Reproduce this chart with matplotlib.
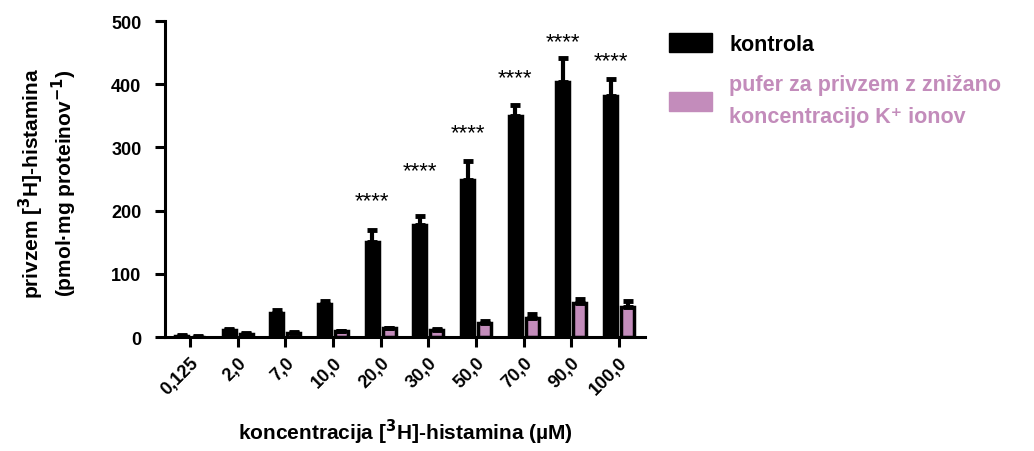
import matplotlib
matplotlib.use("Agg")
import matplotlib.pyplot as plt
import numpy as np
from matplotlib.patches import Patch

plt.rcParams['font.family'] = ['Liberation Sans', 'DejaVu Sans']

categories = ["0,125", "2,0", "7,0", "10,0", "20,0", "30,0", "50,0", "70,0", "90,0", "100,0"]
kontrola = [2, 11, 38, 53, 150, 178, 248, 350, 403, 381]
kontrola_err = [1, 1, 4, 4, 19, 13, 30, 17, 38, 27]
pufer = [0.5, 5, 7, 9, 13.5, 11, 22, 30, 54, 48]
pufer_err = [0.5, 1, 1, 1, 1.5, 2, 3, 7, 6, 9]
stars_y = [215, 263, 324, 411, 468, 437]
stars_idx = [4, 5, 6, 7, 8, 9]

PINK = '#C38CBB'

fig = plt.figure(figsize=(10.34, 4.52), dpi=100)
ax = fig.add_axes([0.1596, 0.2522, 0.6238 - 0.1596, 0.9513 - 0.2522])

x = np.arange(len(categories))
off = 0.178
w = 0.27
ax.bar(x - off, kontrola, width=w, color='black', edgecolor='black', linewidth=2.5, zorder=2)
ax.errorbar(x - off, kontrola, yerr=[np.zeros(len(x)), kontrola_err], fmt='none',
            ecolor='black', elinewidth=3.0, capsize=3.5, capthick=3.5, zorder=3)
ax.bar(x + off, pufer, width=w, color=PINK, edgecolor='black', linewidth=2.5, zorder=2)
ax.errorbar(x + off, pufer, yerr=[np.zeros(len(x)), pufer_err], fmt='none',
            ecolor='black', elinewidth=3.0, capsize=3.5, capthick=3.5, zorder=3)

for i, yv in zip(stars_idx, stars_y):
    ax.text(x[i] - off, yv, "****", ha='center', va='center', fontsize=16, color='black')

ax.set_xlim(-0.524, 9.545)
ax.set_ylim(0, 500)
ax.set_yticks([0, 100, 200, 300, 400, 500])
ax.set_xticks(x)
ax.set_xticklabels(categories, rotation=45, ha='right', rotation_mode='anchor',
                   fontsize=13, fontweight='bold')
for lab in ax.get_yticklabels():
    lab.set_fontweight('bold')
    lab.set_fontsize(13)

for s in ['top', 'right']:
    ax.spines[s].set_visible(False)
for s in ['left', 'bottom']:
    ax.spines[s].set_linewidth(2.2)
ax.tick_params(axis='both', width=2.2, length=7, direction='out')
ax.tick_params(axis='y', pad=10)
ax.tick_params(axis='x', pad=5)

ax.set_xlabel("koncentracija [$\\mathbf{^3}$H]-histamina (µM)", fontsize=15, fontweight='bold', labelpad=14)
fig.text(0.030, 0.595, "privzem [$\\mathbf{^3}$H]-histamina", rotation=90, ha='center', va='center',
         fontsize=15, fontweight='bold')
fig.text(0.062, 0.595, "(pmol·mg proteinov$\\mathbf{^{-1}}$)", rotation=90, ha='center', va='center',
         fontsize=15, fontweight='bold')

handles = [Patch(facecolor='black', edgecolor='black'), Patch(facecolor=PINK, edgecolor=PINK)]
labels = ["kontrola", "pufer za privzem z znižano\nkoncentracijo K\u207a ionov"]
leg = fig.legend(handles, labels, loc='upper left', bbox_to_anchor=(0.643, 0.935), frameon=False,
                 handlelength=2.0, handleheight=1.0, handletextpad=0.8, labelspacing=0.9,
                 borderaxespad=0, borderpad=0.2,
                 prop={'weight': 'bold', 'size': 15.5})
texts = leg.get_texts()
texts[0].set_color('black')
texts[1].set_color(PINK)
texts[1].set_linespacing(1.7)

fig.savefig("out.png", dpi=100)
